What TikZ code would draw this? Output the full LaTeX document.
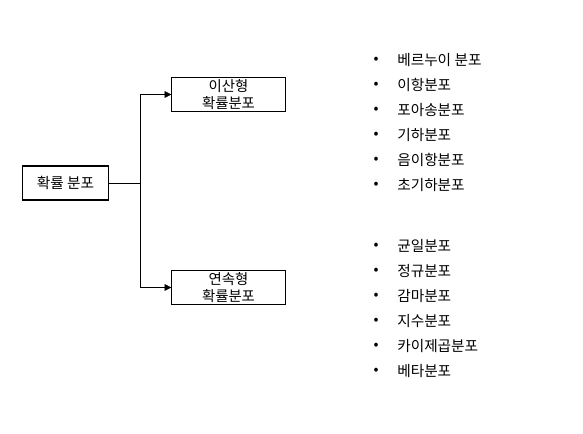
\documentclass[tikz,border=0pt]{standalone}
\usepackage{fontspec}
\setmainfont{Noto Sans CJK KR}
\usetikzlibrary{arrows.meta, positioning}

\begin{document}
\begin{tikzpicture}[
    x=0.75pt, y=-0.75pt,
    box/.style = {rectangle, draw, thick, align=center, inner sep=0pt, font = \fontsize{10.8}{12.75}\selectfont},
    dot/.style = {inner sep=0pt, text height=5pt, text depth=0pt, font = \fontsize{11}{12}\selectfont},
    item/.style = {anchor=west, inner sep=0pt, text height=8pt, text depth=2pt, font = \fontsize{11}{12}\selectfont},
    >={Triangle[length=5pt, width=5pt]}]

\useasboundingbox (0,0) rectangle (583,433);

\node[box, minimum width=64pt, minimum height=25.5pt, font = \fontsize{11}{12}\selectfont] (A) at (65.5,183) {확률 분포};
\node[box, minimum width=85pt, minimum height=26pt] (B) at (228.5,94.5) {이산형\\확률분포};
\node[box, minimum width=85pt, minimum height=26pt] (C) at (228.5,287.5) {연속형\\확률분포};
\coordinate (T) at (140,183);

% discrete list
\foreach \t [count=\i] in {베르누이 분포, 이항분포, 포아송분포, 기하분포, 음이항분포, 초기하분포}{
  \node[dot] (db\i) at (376,35.5+25*\i) {•};
  \node[item] (d\i) at (397,36+25*\i) {\t};
}
% continuous list
\foreach \t [count=\i] in {균일분포, 정규분포, 감마분포, 지수분포, 카이제곱분포, 베타분포}{
  \node[dot] (cb\i) at (376,221.5+25*\i) {•};
  \node[item] (c\i) at (397,222+25*\i) {\t};
}

%connectors
\draw (A) -- (T);
\draw[->] (T) |- (B);
\draw[->] (T) |- (C);
\end{tikzpicture}
\end{document}
